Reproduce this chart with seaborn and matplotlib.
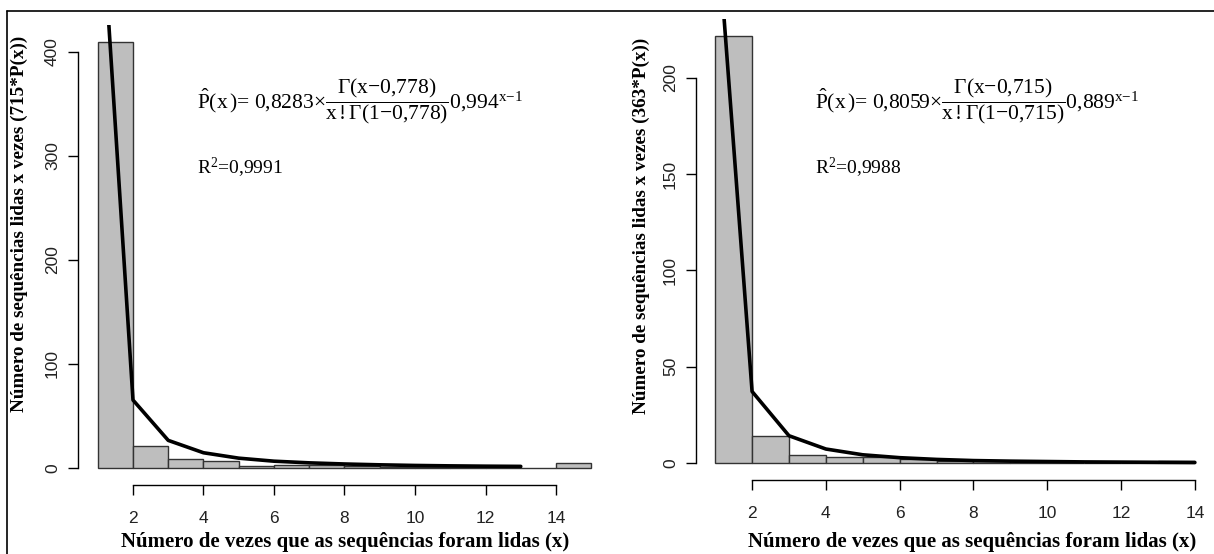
import numpy as np
import pandas as pd
import matplotlib
matplotlib.use("Agg")
import matplotlib.pyplot as plt
from matplotlib.lines import Line2D
import seaborn as sns

# ---------------- data ----------------
left_bins = [1, 2, 3, 4, 5, 6, 7, 8, 9, 10, 11, 12, 13, 14]
left_counts = [410, 21, 9, 7, 2, 3, 3, 2, 1, 1, 1, 1, 0, 5]
left_fit_x = [1, 2, 3, 4, 5, 6, 7, 8, 9, 10, 11, 12, 13]
left_fit_y = [592.2, 65.3, 26.5, 14.6, 9.4, 6.5, 4.9, 3.8, 3.0, 2.4, 2.0, 1.7, 1.5]

right_bins = [1, 2, 3, 4, 5, 6, 7, 8, 9, 10, 11, 12, 13]
right_counts = [222, 14, 4, 3, 3, 2, 1, 1, 1, 0, 0, 0, 1]
right_fit_x = [1, 2, 3, 4, 5, 6, 7, 8, 9, 10, 11, 12, 13, 14]
right_fit_y = [292.5, 37.1, 14.1, 7.2, 4.2, 2.7, 1.8, 1.2, 0.9, 0.7, 0.5, 0.4, 0.3, 0.2]

x_ticks = [2, 4, 6, 8, 10, 12, 14]
left_yticks = [0, 100, 200, 300, 400]
right_yticks = [0, 50, 100, 150, 200]

xlabel = "Número de vezes que as sequências foram lidas (x)"
left_ylabel = "Número de sequências lidas x vezes (715*P(x))"
right_ylabel = "Número de sequências lidas x vezes (363*P(x))"
left_formula = r"$\hat{\mathrm{P}}(\mathrm{x}\,)$= 0,8283$\times\dfrac{\Gamma(\mathrm{x}{-}0{,}778)}{\mathrm{x}\,!\Gamma(1{-}0{,}778)}$0,994$^{\mathrm{x}{-}1}$"
right_formula = r"$\hat{\mathrm{P}}(\mathrm{x}\,)$= 0,8059$\times\dfrac{\Gamma(\mathrm{x}{-}0{,}715)}{\mathrm{x}\,!\Gamma(1{-}0{,}715)}$0,889$^{\mathrm{x}{-}1}$"
left_r2 = r"R$^{2}$=0,9991"
right_r2 = r"R$^{2}$=0,9988"

# ---------------- style ----------------
sns.set_theme(style="white")
plt.rcParams["font.family"] = ["Liberation Sans", "DejaVu Sans"]
plt.rcParams["mathtext.fontset"] = "custom"
plt.rcParams["mathtext.rm"] = "Liberation Serif"
plt.rcParams["mathtext.it"] = "Liberation Serif:italic"
plt.rcParams["mathtext.bf"] = "Liberation Serif:bold"

W, H = 1214, 554
fig = plt.figure(figsize=(W / 100, H / 100), dpi=100)
fig.patch.set_facecolor("white")


def px_axes(left, right, top, bottom):
    return fig.add_axes([left / W, 1 - bottom / H, (right - left) / W, (bottom - top) / H])


def panel(ax, bins, counts, fx, fy, nbins_end, yticks):
    df = pd.DataFrame({"x": np.array(bins, dtype=float) + 0.5, "n": np.array(counts, dtype=float)})
    sns.histplot(data=df, x="x", weights="n", binwidth=1, binrange=(1, nbins_end),
                 color="#BEBEBE", edgecolor="#333333", linewidth=1.0, alpha=1, ax=ax)
    fdf = pd.DataFrame({"x": fx, "y": fy})
    sns.lineplot(data=fdf, x="x", y="y", color="black", linewidth=2.6, ax=ax)
    for s in ["top", "right"]:
        ax.spines[s].set_visible(False)
    for s in ["left", "bottom"]:
        ax.spines[s].set_color("black")
        ax.spines[s].set_linewidth(1.0)
    ax.spines["left"].set_bounds(yticks[0], yticks[-1])
    ax.spines["bottom"].set_bounds(x_ticks[0], x_ticks[-1])
    ax.set_xticks(x_ticks)
    ax.set_yticks(yticks)
    ax.set_xticklabels([str(t) for t in x_ticks])
    ax.set_yticklabels([str(t) for t in yticks])
    ax.tick_params(axis="both", direction="out", length=7, width=1.0, color="black",
                   labelsize=12.5, labelcolor="#222222", bottom=True, left=True)
    ax.tick_params(axis="x", pad=12)
    ax.tick_params(axis="y", pad=6)
    for lab in ax.get_yticklabels():
        lab.set_rotation(90)
        lab.set_va("center")
    ax.set_xlabel("")
    ax.set_ylabel("")
    ax.set_facecolor("white")
    ax.grid(False)


# left panel
axL = px_axes(78, 611, 24.5, 485)
panel(axL, left_bins, left_counts, left_fit_x, left_fit_y, 15, left_yticks)
axL.set_xlim(0.44, 15.56)
axL.set_ylim(-16.4, 426.4)

# right panel
axR = px_axes(696, 1214, 18.5, 480)
panel(axR, right_bins, right_counts, right_fit_x, right_fit_y, 14, right_yticks)
axR.set_xlim(0.48, 14.52)
axR.set_ylim(-8.9, 230.9)

lab_font = dict(family=["Liberation Serif", "DejaVu Serif"], fontweight="bold", color="black")
fig.text(345 / W, 1 - 542 / H, xlabel, ha="center", va="center", fontsize=15, **lab_font)
fig.text(972 / W, 1 - 542 / H, xlabel, ha="center", va="center", fontsize=15, **lab_font)
fig.text(19 / W, 1 - 224 / H, left_ylabel, ha="center", va="center", rotation=90, fontsize=13.8, **lab_font)
fig.text(641 / W, 1 - 226 / H, right_ylabel, ha="center", va="center", rotation=90, fontsize=13.8, **lab_font)

txt_font = dict(family=["Liberation Serif", "DejaVu Serif"], color="black")
fig.text(197 / W, 1 - 101 / H, left_formula, ha="left", va="center", fontsize=15.5, **txt_font)
fig.text(815 / W, 1 - 101 / H, right_formula, ha="left", va="center", fontsize=15.5, **txt_font)
fig.text(197 / W, 1 - 168 / H, left_r2, ha="left", va="center", fontsize=14, **txt_font)
fig.text(815 / W, 1 - 168 / H, right_r2, ha="left", va="center", fontsize=14, **txt_font)

# outer frame (top and left edges)
fig.add_artist(Line2D([7 / W, 1.0], [1 - 11 / H, 1 - 11 / H], transform=fig.transFigure, color="black", linewidth=1.2))
fig.add_artist(Line2D([7 / W, 7 / W], [0.0, 1 - 11 / H], transform=fig.transFigure, color="black", linewidth=1.2))

fig.savefig("out.png", dpi=100, facecolor="white")
